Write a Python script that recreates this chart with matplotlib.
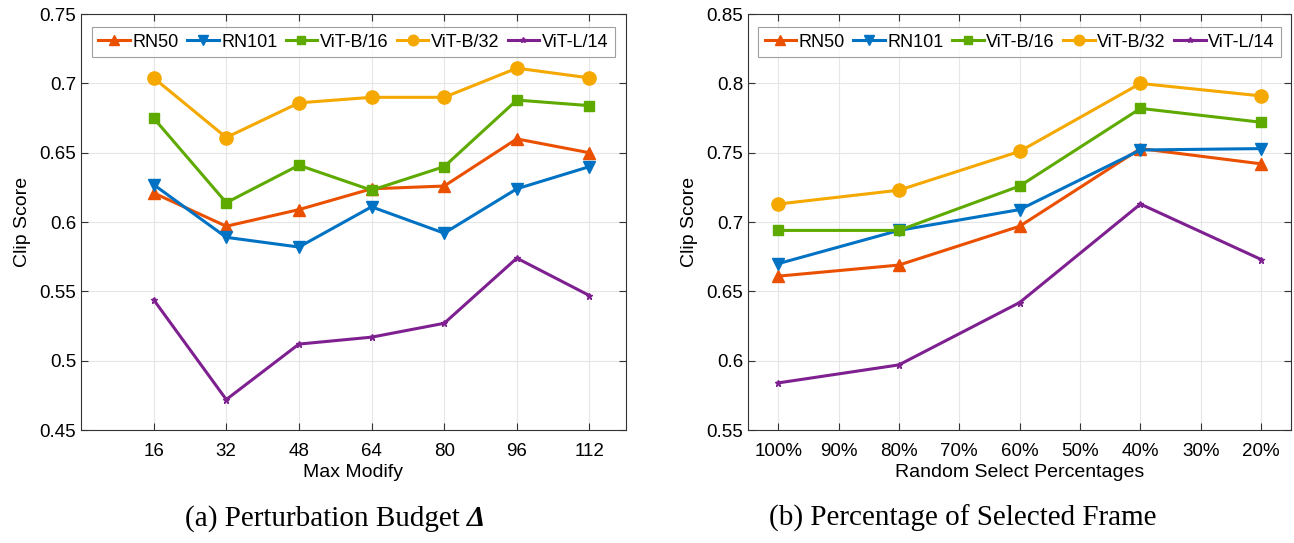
import matplotlib
matplotlib.use("Agg")
import matplotlib.pyplot as plt

plt.rcParams['font.family'] = ['Liberation Sans', 'DejaVu Sans']

# ---- data (a) ----
budget_ticks = [16, 32, 48, 64, 80, 96, 112]
a_rn50 = [0.621, 0.597, 0.609, 0.624, 0.626, 0.660, 0.650]
a_rn101 = [0.627, 0.589, 0.582, 0.611, 0.592, 0.624, 0.640]
a_vitb16 = [0.675, 0.614, 0.641, 0.623, 0.640, 0.688, 0.684]
a_vitb32 = [0.704, 0.661, 0.686, 0.690, 0.690, 0.711, 0.704]
a_vitl14 = [0.544, 0.472, 0.512, 0.517, 0.527, 0.574, 0.547]

# ---- data (b) ----
pct_labels = ['100%', '90%', '80%', '70%', '60%', '50%', '40%', '30%', '20%']
pct_points = ['100%', '80%', '60%', '40%', '20%']
b_rn50 = [0.661, 0.669, 0.697, 0.753, 0.742]
b_rn101 = [0.670, 0.694, 0.709, 0.752, 0.753]
b_vitb16 = [0.694, 0.694, 0.726, 0.782, 0.772]
b_vitb32 = [0.713, 0.723, 0.751, 0.800, 0.791]
b_vitl14 = [0.584, 0.597, 0.642, 0.713, 0.673]

names = ['RN50', 'RN101', 'ViT-B/16', 'ViT-B/32', 'ViT-L/14']
colors = ['#EA5000', '#0072C4', '#5FAA00', '#F5A800', '#7E2090']
markers = ['^', 'v', 's', 'o', '*']
msizes = [9, 9, 7.5, 9.5, 5]

fig = plt.figure(figsize=(12.94, 5.43), dpi=100)
axA = fig.add_axes([0.0626, 0.208, 0.421, 0.766])
axB = fig.add_axes([0.578, 0.208, 0.420, 0.766])

def style(ax):
    ax.grid(True, color='#e6e6e6', linewidth=0.8)
    ax.set_axisbelow(True)
    ax.tick_params(direction='in', top=True, right=True, labelsize=13.5,
                   length=5, color='#333333', width=0.8)
    ax.tick_params(axis='x', pad=9)
    for s in ax.spines.values():
        s.set_color('#333333')
        s.set_linewidth(0.8)

seriesA = [a_rn50, a_rn101, a_vitb16, a_vitb32, a_vitl14]
for name, c, m, ms, ys in zip(names, colors, markers, msizes, seriesA):
    axA.plot(budget_ticks, ys, color=c, marker=m, markersize=ms, linewidth=2.2,
             label=name)
axA.set_xlim(0, 120)
axA.set_ylim(0.45, 0.75)
axA.set_xticks(budget_ticks)
axA.set_yticks([0.45, 0.5, 0.55, 0.6, 0.65, 0.7, 0.75])
axA.set_yticklabels(['0.45', '0.5', '0.55', '0.6', '0.65', '0.7', '0.75'])
axA.set_xlabel('Max Modify', fontsize=14, labelpad=3)
axA.set_ylabel('Clip Score', fontsize=14, labelpad=6)
style(axA)

xpos = [pct_labels.index(p) for p in pct_points]
seriesB = [b_rn50, b_rn101, b_vitb16, b_vitb32, b_vitl14]
for name, c, m, ms, ys in zip(names, colors, markers, msizes, seriesB):
    axB.plot(xpos, ys, color=c, marker=m, markersize=ms, linewidth=2.2,
             label=name)
axB.set_xlim(-0.5, 8.5)
axB.set_ylim(0.55, 0.85)
axB.set_xticks(range(len(pct_labels)))
axB.set_xticklabels(pct_labels)
axB.set_yticks([0.55, 0.6, 0.65, 0.7, 0.75, 0.8, 0.85])
axB.set_yticklabels(['0.55', '0.6', '0.65', '0.7', '0.75', '0.8', '0.85'])
axB.set_xlabel('Random Select Percentages', fontsize=14, labelpad=3)
axB.set_ylabel('Clip Score', fontsize=14, labelpad=6)
style(axB)

for ax in (axA, axB):
    leg = ax.legend(loc='upper center', ncol=5, fontsize=13, frameon=True,
                    fancybox=False, edgecolor='#888888', handlelength=1.75,
                    handletextpad=0.15, columnspacing=0.45, borderpad=0.35,
                    markerscale=0.8, bbox_to_anchor=(0.5, 0.99))
    leg.get_frame().set_linewidth(0.8)

# captions
capfs = 21
fig.canvas.draw()
renderer = fig.canvas.get_renderer()
t1 = fig.text(0, 0.045, '(a) Perturbation Budget ', ha='left', va='center',
              fontsize=capfs, family='Liberation Serif')
t2 = fig.text(0, 0.045, 'Δ', ha='left', va='center', fontsize=capfs,
              family='Liberation Serif', fontweight='bold', fontstyle='italic')
w1 = t1.get_window_extent(renderer).width / fig.bbox.width
w2 = t2.get_window_extent(renderer).width / fig.bbox.width
start = 0.259 - (w1 + w2) / 2
t1.set_x(start)
t2.set_x(start + w1)
fig.text(0.744, 0.045, '(b) Percentage of Selected Frame',
         ha='center', va='center', fontsize=capfs, family='Liberation Serif')

fig.savefig('out.png', dpi=100)
